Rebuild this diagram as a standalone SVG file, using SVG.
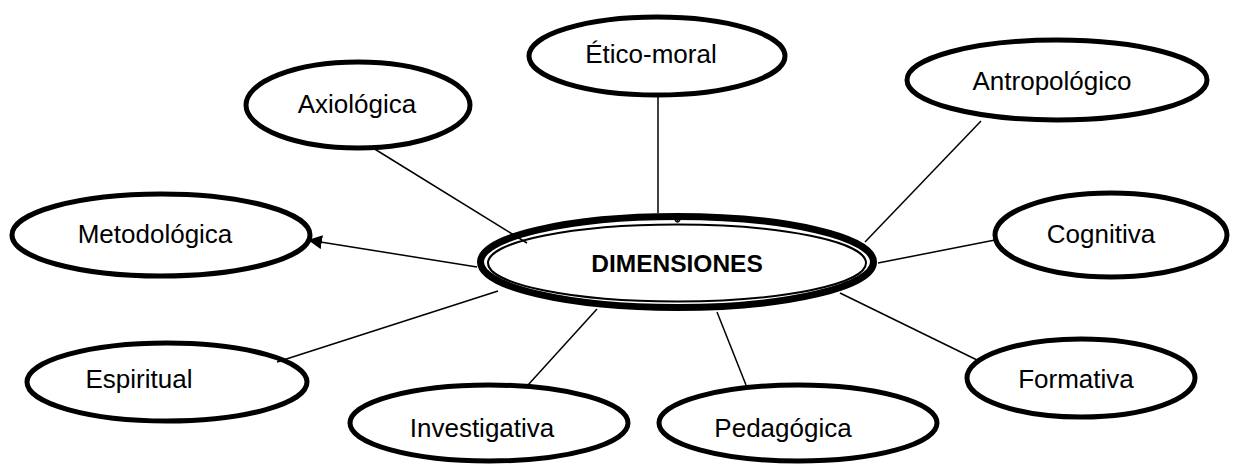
<svg xmlns="http://www.w3.org/2000/svg" width="1240" height="467" viewBox="0 0 1240 467">
  <style>
    .node { fill: #ffffff; stroke: #000000; stroke-width: 5; }
    .lbl { font-family: "Liberation Sans", Arial, sans-serif; font-size: 26px; fill: #000000; text-anchor: middle; }
    .title { font-family: "Liberation Sans", Arial, sans-serif; font-size: 24.5px; font-weight: bold; fill: #000000; text-anchor: middle; }
    .conn { stroke: #000000; stroke-width: 1.5; fill: none; }
  </style>
  <defs>
    <marker id="arrow" markerUnits="userSpaceOnUse" markerWidth="16" markerHeight="14" refX="14" refY="7" orient="auto">
      <path d="M0,0 L14,7 L0,14 Z" fill="#000000"/>
    </marker>
  </defs>
  <rect x="0" y="0" width="1240" height="467" fill="#ffffff"/>

  <g id="node-etico-moral">
    <ellipse class="node" cx="657" cy="56" rx="128" ry="39"/>
    <text class="lbl" x="651" y="63">Ético-moral</text>
  </g>
  <g id="node-axiologica">
    <ellipse class="node" cx="358" cy="105" rx="112" ry="43"/>
    <text class="lbl" x="357" y="113">Axiológica</text>
  </g>
  <g id="node-antropologico">
    <ellipse class="node" cx="1057" cy="80" rx="150" ry="40"/>
    <text class="lbl" x="1052" y="90">Antropológico</text>
  </g>
  <g id="node-metodologica">
    <ellipse class="node" cx="161" cy="235" rx="149" ry="41"/>
    <text class="lbl" x="155" y="243">Metodológica</text>
  </g>
  <g id="node-cognitiva">
    <ellipse class="node" cx="1111" cy="235" rx="116" ry="42"/>
    <text class="lbl" x="1101" y="243">Cognitiva</text>
  </g>
  <g id="node-espiritual">
    <ellipse class="node" cx="167" cy="382" rx="140" ry="39"/>
    <text class="lbl" x="139" y="388">Espiritual</text>
  </g>
  <g id="node-formativa">
    <ellipse class="node" cx="1081" cy="378" rx="114" ry="39"/>
    <text class="lbl" x="1076" y="388">Formativa</text>
  </g>
  <g id="node-investigativa">
    <ellipse class="node" cx="489" cy="423" rx="139" ry="38"/>
    <text class="lbl" x="482" y="437">Investigativa</text>
  </g>
  <g id="node-pedagogica">
    <ellipse class="node" cx="798" cy="423" rx="139" ry="38"/>
    <text class="lbl" x="783" y="437">Pedagógica</text>
  </g>
  <g id="node-dimensiones">
    <ellipse cx="677" cy="262" rx="196.5" ry="45.5" fill="#ffffff" stroke="#000000" stroke-width="7"/>
    <ellipse cx="677" cy="263" rx="189" ry="38.5" fill="none" stroke="#000000" stroke-width="2"/>
    <text class="title" x="677" y="272">DIMENSIONES</text>
  </g>

  <g id="connectors">
    <line class="conn" x1="658" y1="97" x2="658" y2="213"/>
    <path class="conn" d="M679,213 L677,222 M675,220 Q677,224 680,220" stroke-width="1"/>
    <line class="conn" x1="373" y1="148" x2="527" y2="243"/>
    <line class="conn" x1="981" y1="121" x2="865" y2="242"/>
    <line class="conn" x1="995" y1="240" x2="878" y2="263"/>
    <line class="conn" x1="477" y1="267" x2="308" y2="240" marker-end="url(#arrow)"/>
    <line class="conn" x1="277" y1="362" x2="498" y2="291"/>
    <line class="conn" x1="528" y1="385" x2="597" y2="309"/>
    <line class="conn" x1="746" y1="385" x2="717" y2="312"/>
    <line class="conn" x1="977" y1="360" x2="840" y2="293"/>
  </g>
</svg>
